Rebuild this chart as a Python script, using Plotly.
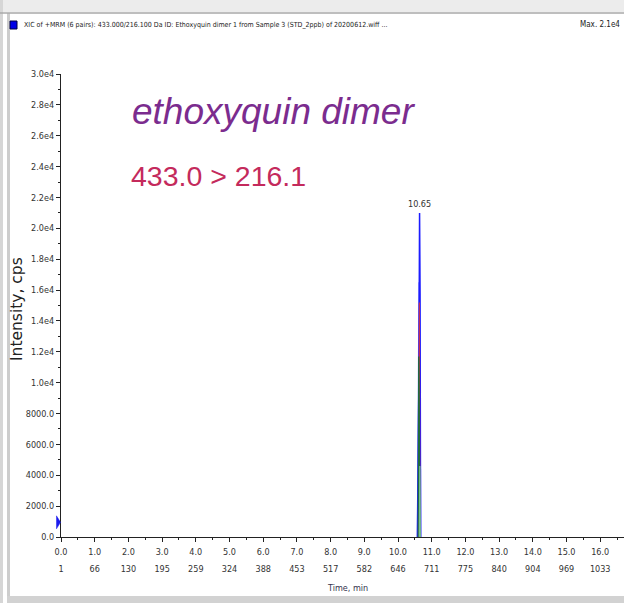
import plotly.graph_objects as go

# ---------------- data ----------------
t_blue = [10.575, 10.59, 10.605, 10.62, 10.64, 10.655, 10.67]
i_blue = [0, 3700, 3900, 10000, 21000, 15800, 0]

t_lblue = [10.58, 10.59, 10.625, 10.655, 10.665, 10.675]
i_lblue = [0, 3500, 16500, 4500, 4400, 0]

t_red = [10.615, 10.635, 10.65]
i_red = [0, 15200, 0]

t_dgreen = [10.60, 10.615, 10.63, 10.645]
i_dgreen = [0, 11700, 8200, 0]

t_lgreen = [10.635, 10.648, 10.66]
i_lgreen = [0, 4600, 0]

peak_time = 10.65
peak_int = 21000
peak_label = "10.65"

marker_int = 950

x_major = [float(v) for v in range(0, 17)]
x_labels = ["%.1f" % v for v in x_major]
scan_labels = ["1", "66", "130", "195", "259", "324", "388", "453", "517",
               "582", "646", "711", "775", "840", "904", "969", "1033"]

y_major = [0, 2000, 4000, 6000, 8000, 10000, 12000, 14000, 16000, 18000,
           20000, 22000, 24000, 26000, 28000, 30000]
y_labels = ["0.0", "2000.0", "4000.0", "6000.0", "8000.0", "1.0e4", "1.2e4",
            "1.4e4", "1.6e4", "1.8e4", "2.0e4", "2.2e4", "2.4e4", "2.6e4",
            "2.8e4", "3.0e4"]

header = ("XIC of +MRM (6 pairs): 433.000/216.100 Da ID: Ethoxyquin dimer 1 "
          "from Sample 3 (STD_2ppb) of 20200612.wiff ...")
max_text = "Max. 2.1e4"
title1 = "ethoxyquin dimer"
title2 = "433.0 &gt; 216.1"

# ---------------- layout geometry ----------------
WIDTH, HEIGHT = 624, 603
L, R, T, B = 61, 624, 74, 537
PW, PH = R - L, B - T
X_PER_MIN = 33.7
Y_PER_UNIT = PH / 30000.0


def px(xp):
    return (xp - L) / PW


def py(yp):
    return (B - yp) / PH


NARROW = "Liberation Sans Narrow, DejaVu Sans Condensed, Arial Narrow, sans-serif"

fig = go.Figure()

series = [
    (t_lblue, i_lblue, "#8a8aff", 1.4),
    (t_blue, i_blue, "#1c1cff", 1.5),
    (t_red, i_red, "#c8304e", 1.1),
    (t_dgreen, i_dgreen, "#1d6b3e", 1.3),
    (t_lgreen, i_lgreen, "#74c48e", 1.3),
]
for tx, iy, col, w in series:
    fig.add_trace(go.Scatter(x=tx, y=iy, mode="lines",
                             line=dict(color=col, width=w),
                             hoverinfo="skip", showlegend=False))

# invisible trace for secondary x axis (scan numbers)
fig.add_trace(go.Scatter(x=[x_major[0], x_major[-1]], y=[0, 0], xaxis="x2",
                         mode="lines", line=dict(width=0), opacity=0,
                         showlegend=False, hoverinfo="skip"))

tick_font = dict(family=NARROW, size=9, color="#333333")

fig.update_layout(
    width=WIDTH, height=HEIGHT,
    margin=dict(l=L, r=WIDTH - R, t=T, b=HEIGHT - B),
    paper_bgcolor="white", plot_bgcolor="white",
    showlegend=False,
    xaxis=dict(range=[0, (R - L) / X_PER_MIN], showgrid=False, zeroline=False,
               showline=True, linecolor="#222222", linewidth=1.2,
               ticks="outside", ticklen=4, tickcolor="#222222",
               tickvals=x_major, ticktext=x_labels, tickfont=tick_font,
               ticklabelstandoff=2,
               minor=dict(dtick=0.5, ticks="outside", ticklen=2,
                          tickcolor="#222222")),
    xaxis2=dict(overlaying="x", matches="x", side="bottom", anchor="y",
                showgrid=False, zeroline=False, showline=False, ticks="",
                tickvals=x_major, ticktext=scan_labels, tickfont=tick_font,
                ticklabelstandoff=25),
    yaxis=dict(range=[0, 30000], showgrid=False, zeroline=False,
               showline=True, linecolor="#222222", linewidth=1.2,
               ticks="outside", ticklen=4, tickcolor="#222222",
               tickvals=y_major, ticktext=y_labels, tickfont=tick_font,
               minor=dict(dtick=1000, ticks="outside", ticklen=2,
                          tickcolor="#222222")),
)

ann = []
ann.append(dict(x=peak_time, y=peak_int, xref="x", yref="y", text=peak_label,
                showarrow=False, yshift=9, xanchor="center", yanchor="middle",
                font=dict(family=NARROW, size=9, color="#333333")))
ann.append(dict(x=px(130), y=py(111), xref="paper", yref="paper",
                xanchor="left", yanchor="middle", text="<i>" + title1 + "</i>",
                showarrow=False,
                font=dict(family="Liberation Sans, Arial, sans-serif", size=37,
                          color="#7b2c8e")))
ann.append(dict(x=px(129), y=py(176), xref="paper", yref="paper",
                xanchor="left", yanchor="middle", text=title2,
                showarrow=False,
                font=dict(family="Liberation Sans, Arial, sans-serif", size=28.5,
                          color="#c42a5c")))
ann.append(dict(x=px(17), y=py(309), xref="paper", yref="paper",
                xanchor="center", yanchor="middle",
                text="Intensity, cps", textangle=-90, showarrow=False,
                font=dict(family="DejaVu Sans, sans-serif", size=15.5,
                          color="#222222")))
ann.append(dict(x=px(347), y=py(588), xref="paper", yref="paper",
                xanchor="center", yanchor="middle",
                text="Time, min", showarrow=False,
                font=dict(family=NARROW, size=9, color="#33334d")))
ann.append(dict(x=px(22), y=py(25), xref="paper", yref="paper",
                xanchor="left", yanchor="middle", text=header, showarrow=False,
                font=dict(family=NARROW, size=7.0, color="#222222")))
ann.append(dict(x=px(622), y=py(25), xref="paper", yref="paper",
                xanchor="right", yanchor="middle", text=max_text,
                showarrow=False,
                font=dict(family=NARROW, size=8, color="#222222")))
fig.update_layout(annotations=ann)

shapes = []
# window frame
shapes.append(dict(type="rect", xref="paper", yref="paper",
                   x0=px(0), x1=px(624), y0=py(0), y1=py(12),
                   fillcolor="#ececec", line=dict(width=0), layer="below"))
shapes.append(dict(type="line", xref="paper", yref="paper",
                   x0=px(0), x1=px(624), y0=py(13), y1=py(13),
                   line=dict(color="#a8a8a8", width=1.5)))
shapes.append(dict(type="rect", xref="paper", yref="paper",
                   x0=px(0), x1=px(3), y0=py(0), y1=py(603),
                   fillcolor="#d6d6d6", line=dict(width=0), layer="below"))
shapes.append(dict(type="rect", xref="paper", yref="paper",
                   x0=px(7), x1=px(10), y0=py(13), y1=py(597),
                   fillcolor="#cdcdcd", line=dict(width=0), layer="below"))
shapes.append(dict(type="rect", xref="paper", yref="paper",
                   x0=px(7), x1=px(624), y0=py(596), y1=py(603),
                   fillcolor="#d2d2d2", line=dict(width=0), layer="below"))
# blue legend square in header
shapes.append(dict(type="rect", xref="paper", yref="paper",
                   x0=px(10), x1=px(17), y0=py(21), y1=py(29),
                   fillcolor="#0000e6", line=dict(color="#000040", width=1)))
# start-of-trace arrow marker (right-pointing triangle left of the y axis)
tri_h = 6.5 / Y_PER_UNIT         # half height 6.5 px
xa, xb = px(L - 4.5), px(L - 0.5)
shapes.append(dict(type="path", xref="paper", yref="y",
                   path="M %f,%f L %f,%f L %f,%f Z" % (
                       xa, marker_int - tri_h,
                       xb, marker_int,
                       xa, marker_int + tri_h),
                   fillcolor="#1a1aee", line=dict(color="#1a1aee", width=0.5)))
fig.update_layout(shapes=shapes)

fig.write_html("out.html",
               config={"displayModeBar": False},
               post_script="document.body.style.margin='0px';"
                           "document.body.style.padding='0px';")
